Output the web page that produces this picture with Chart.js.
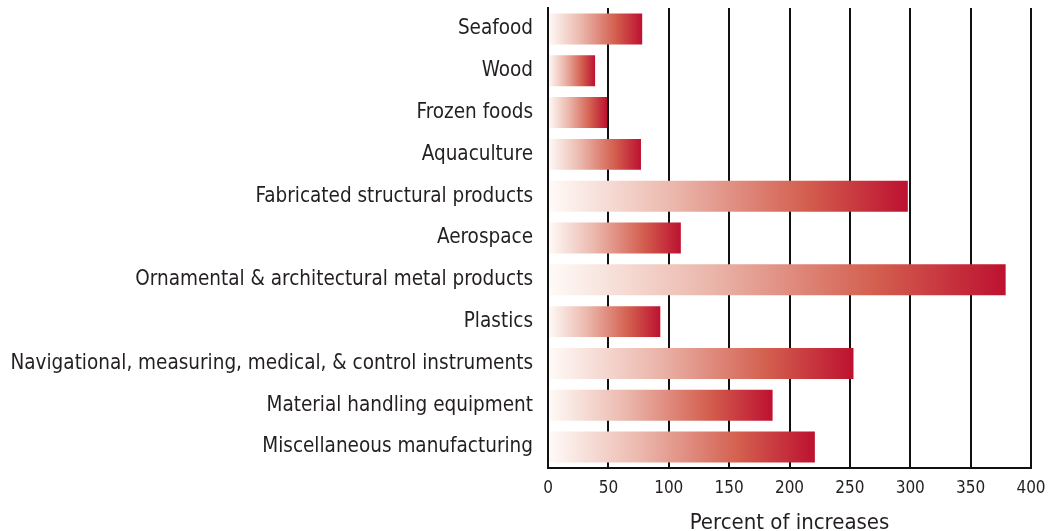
<!DOCTYPE html>
<html>
<head>
<meta charset="utf-8">
<script src="https://cdn.jsdelivr.net/npm/chart.js@4/dist/chart.umd.min.js"></script>
<style>
  html, body { margin: 0; padding: 0; background: #fff; }
  #wrap { width: 1048px; height: 531px; position: relative; }
</style>
</head>
<body>
<div id="wrap"><canvas id="increaseChart"></canvas></div>
<script>
var industries = [
  "Seafood",
  "Wood",
  "Frozen foods",
  "Aquaculture",
  "Fabricated structural products",
  "Aerospace",
  "Ornamental & architectural metal products",
  "Plastics",
  "Navigational, measuring, medical, & control instruments",
  "Material handling equipment",
  "Miscellaneous manufacturing"
];
var increases = [78, 39, 49, 77, 298, 110, 379, 93, 253, 186, 221];
var xTicks = [0, 50, 100, 150, 200, 250, 300, 350, 400];

var fontFamily = "'Liberation Sans Narrow', 'DejaVu Sans Condensed', 'Roboto', sans-serif";
var inkColor = "#231f20";

// each bar fades from white at zero to deep red at its own end
function barGradient(context) {
  var chart = context.chart;
  if (!chart.chartArea || !chart.scales.x) {
    return "#d25c4c";
  }
  var xScale = chart.scales.x;
  var x0 = xScale.getPixelForValue(0);
  var x1 = xScale.getPixelForValue(context.raw);
  var grad = chart.ctx.createLinearGradient(x0, 0, x1, 0);
  grad.addColorStop(0, "#fffbf8");
  grad.addColorStop(0.35, "#ebb7ac");
  grad.addColorStop(0.72, "#d35e4e");
  grad.addColorStop(1, "#bd1130");
  return grad;
}

var ctx = document.getElementById("increaseChart");
var chartIncrease = new Chart(ctx, {
  type: "bar",
  data: {
    labels: industries,
    datasets: [
      {
        label: "Percent of increases",
        data: increases,
        backgroundColor: barGradient,
        borderWidth: 0,
        barPercentage: 0.74,
        categoryPercentage: 1.0,
      },
    ],
  },
  options: {
    indexAxis: "y",
    responsive: true,
    maintainAspectRatio: false,
    animation: false,
    layout: {
      padding: { top: 8, right: 17, bottom: 0, left: 0 },
    },
    plugins: {
      legend: { display: false },
      tooltip: { enabled: false },
    },
    scales: {
      x: {
        min: 0,
        max: 400,
        afterBuildTicks: function (scale) {
          scale.ticks = xTicks.map(function (v) { return { value: v }; });
        },
        afterFit: function (scale) {
          scale.height = 63;
          scale.paddingLeft = 0;
          scale.paddingRight = 0;
        },
        grid: {
          color: "#111",
          lineWidth: 2,
          drawTicks: false,
        },
        border: { color: "#111", width: 2 },
        ticks: {
          color: inkColor,
          padding: 10,
          font: { family: fontFamily, size: 17 },
        },
        title: {
          display: true,
          text: "Percent of increases",
          color: inkColor,
          padding: { top: 10, bottom: -3 },
          font: { family: fontFamily, size: 22, lineHeight: 1.0 },
        },
      },
      y: {
        afterFit: function (scale) {
          scale.width = 548;
          scale.paddingTop = 0;
          scale.paddingBottom = 0;
        },
        grid: { display: false, drawTicks: false },
        border: { color: "#111", width: 2 },
        ticks: {
          color: inkColor,
          padding: 15,
          autoSkip: false,
          font: { family: fontFamily, size: 20.5 },
        },
      },
    },
  },
});
</script>
</body>
</html>
